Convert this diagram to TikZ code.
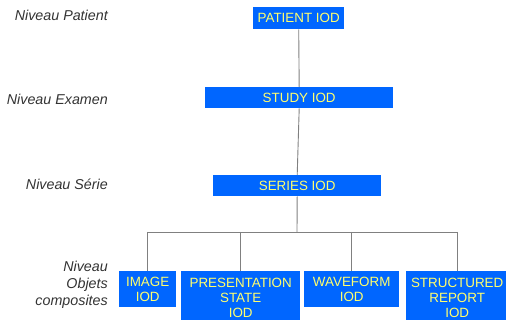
\documentclass[tikz,border=0pt]{standalone}
\usepackage{fontspec}
\setmainfont{Liberation Sans}
\usepackage{tikz}
\usetikzlibrary{positioning}
\definecolor{boxblue}{RGB}{0,102,255}
\definecolor{boxtext}{RGB}{255,255,110}
\definecolor{linkgray}{RGB}{128,128,128}
\definecolor{labelgray}{RGB}{51,51,51}
\tikzset{
    iodbox/.style={
        fill=boxblue,
        text=boxtext,
        inner sep=0pt,
        anchor=north west,
        align=center,
        font=\fontsize{13.4}{15}\selectfont
    },
    % labels of the levels, on the left
    levellabel/.style={
        anchor=east,
        align=right,
        inner sep=0pt,
        text=labelgray,
        font=\fontsize{14.3}{17}\selectfont\itshape
    },
    link/.style={
        line width=0.9pt,
        linkgray
    }
}

\begin{document}
\begin{tikzpicture}[x=1pt, y=-1pt]
	\useasboundingbox (0,0) rectangle (506,320);

	\node [levellabel] (lpatient) at (108,15) {Niveau Patient};
	\node [levellabel] (lexamen) at (108,99) {Niveau Examen};
	\node [levellabel] (lserie) at (108,184) {Niveau Série};
	\node [levellabel] (lobjets) at (108,285) {Niveau\\Objets\\composites};

	\node [iodbox, minimum width=91pt, minimum height=22pt] (patient) at (253,7) {PATIENT IOD};
	\node [iodbox, minimum width=188pt, minimum height=21pt] (study) at (205,87) {STUDY IOD};
	\node [iodbox, minimum width=168pt, minimum height=21pt] (series) at (213,175) {SERIES IOD};

	\node [iodbox, minimum width=57pt, minimum height=36pt] (image) at (119,271) {IMAGE\\IOD};
	\node [iodbox, minimum width=119pt, minimum height=54pt] (presentation) at (181,271) {PRESENTATION\\STATE\\IOD};
	\node [iodbox, minimum width=95pt, minimum height=36pt] (waveform) at (304,271) {WAVEFORM\\IOD};
	\node [iodbox, minimum width=102pt, minimum height=54pt] (report) at (406,271) {STRUCTURED\\REPORT\\IOD};

	\coordinate (bar) at (297,232);

	\draw[link] (patient.south) -- (study.north);
	\draw[link] (study.south) -- (series.north);
	\draw[link] (series.south) -- (bar);
	\draw[link] (bar -| image.north) -- (bar -| report.north);
	\draw[link] (bar -| image.north) -- (image.north);
	\draw[link] (bar -| presentation.north) -- (presentation.north);
	\draw[link] (bar -| waveform.north) -- (waveform.north);
	\draw[link] (bar -| report.north) -- (report.north);
\end{tikzpicture}
\end{document}
